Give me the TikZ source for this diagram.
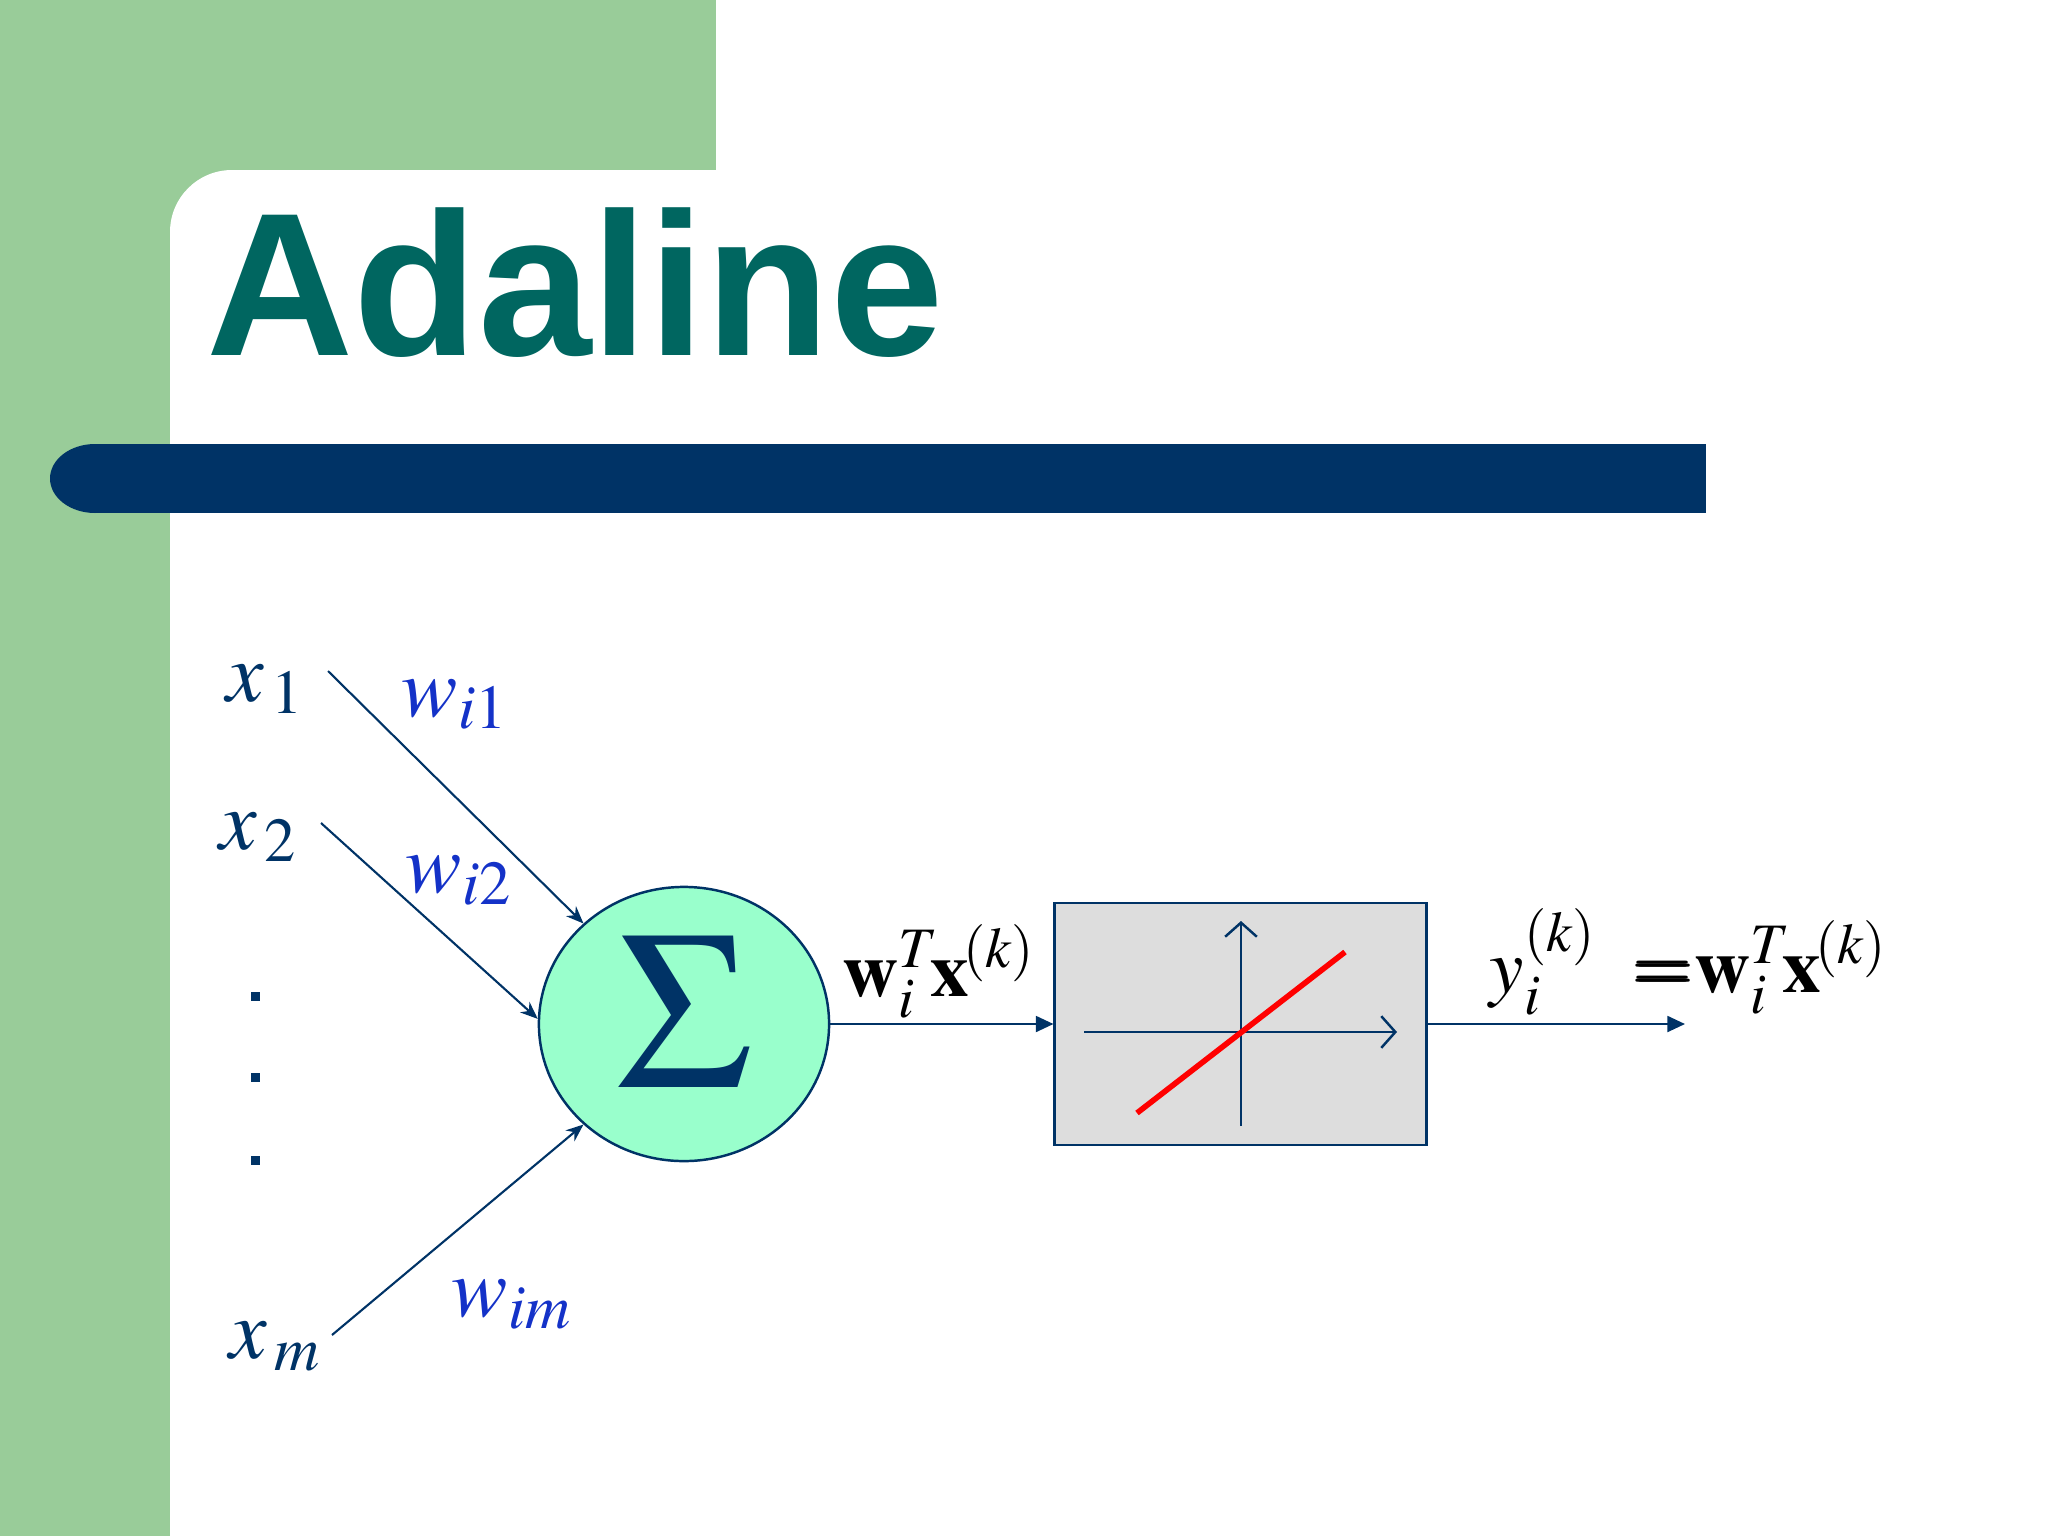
\documentclass[tikz,border=0pt]{standalone}
\usepackage{mathptmx}
\usepackage{bm}
\usepackage{fontspec}
\newfontfamily\titlefont{Liberation Sans}
\usetikzlibrary{shapes.geometric,arrows.meta}
\definecolor{bggreen}{RGB}{153,204,153}
\definecolor{barnavy}{RGB}{0,51,102}
\definecolor{navy}{RGB}{0,51,102}
\definecolor{titleteal}{RGB}{0,102,96}
\definecolor{wblue}{RGB}{20,50,200}
\definecolor{sumgreen}{RGB}{153,255,204}
\definecolor{boxgray}{RGB}{221,221,221}
\begin{document}
\begin{tikzpicture}[x=0.01cm, y=-0.01cm, >=stealth,
    lbl/.style={anchor=base west, inner sep=0pt, font=\fontsize{24}{28}\selectfont},
    inarrow/.style={navy, line width=0.6pt, -{Stealth[length=5pt,width=4pt]}},
    outarrow/.style={navy, line width=0.7pt, -{Triangle[length=5pt,width=4.5pt]}},
    axis/.style={navy, line width=0.7pt, -{Straight Barb[length=4pt,width=9pt]}}]
  \useasboundingbox (0,0) rectangle (2048,1536);
  \fill[bggreen] (0,0) rectangle (170,1536);
  \fill[bggreen] (0,0) rectangle (716,170);
  \fill[bggreen] (170,170) rectangle (232,232);
  \fill[white] (232,232) circle (62);
  \fill[barnavy] (95,444) rectangle (1706,513);
  \fill[barnavy] (95,478.5) ellipse (45 and 34.5);
  \node[anchor=base west, inner sep=0pt, text=titleteal,
    font=\titlefont\bfseries\fontsize{58}{60}\selectfont] (title) at (206,355) {Adaline};

  \node[ellipse, draw=navy, fill=sumgreen, line width=0.7pt, minimum width=2.9cm,
    minimum height=2.74cm, inner sep=0pt, text=navy,
    font=\fontsize{64}{64}\selectfont] (sum) at (684,1024) {\raisebox{0.24cm}{$\Sigma$}};
  \node[draw=navy, fill=boxgray, line width=0.8pt, minimum width=3.71cm,
    minimum height=2.42cm, inner sep=0pt] (act) at (1240.5,1024) {};

  \node[lbl, text=navy] (x1) at (226,701) {$x_{\mkern2mu 1}$};
  \node[lbl, text=navy] (x2) at (219,849) {$x_{\mkern2mu 2}$};
  \node[lbl, text=navy] (xm) at (229,1358) {$x_{\mkern2mu m}$};
  \foreach \y in {996,1077,1160}
    \fill[navy] (250.5,\y-4.5) rectangle (259.5,\y+4.5);
  \node[lbl, text=wblue] (w1) at (401,716) {$w_{i1}$};
  \node[lbl, text=wblue] (w2) at (405,892) {$w_{i2}$};
  \node[lbl, text=wblue] (wm) at (451,1316) {$w_{im}$};

  \coordinate (s1) at (328,671);
  \coordinate (s2) at (321,823);
  \coordinate (sm) at (332,1335);
  \coordinate (out) at (1685,1024);
  \draw[inarrow] (s1) -- (sum.135);
  \draw[inarrow] (s2) -- (sum.178);
  \draw[inarrow] (sm) -- (sum.225);
  \draw[outarrow] (sum.east) -- (act.west);
  \draw[outarrow] (act.east) -- (out);

  \draw[axis] (1084,1032) -- (1397,1032);
  \draw[axis] (1241,1126) -- (1241,921);
  \draw[red, line width=1.6pt] (1137,1113) -- (1345,952);

  \node[lbl, font=\fontsize{22}{26}\selectfont] (net) at (842,996)
    {$\mathbf{w}_i^T\!\mathbf{x}^{\!(k)}$};
  \node[lbl, font=\fontsize{22}{26}\selectfont] (yout) at (1489,992)
    {$y_i^{(k)}\;\;{\bm{=}}\mathbf{w}_i^T\!\mathbf{x}^{\!(k)}$};
\end{tikzpicture}
\end{document}
